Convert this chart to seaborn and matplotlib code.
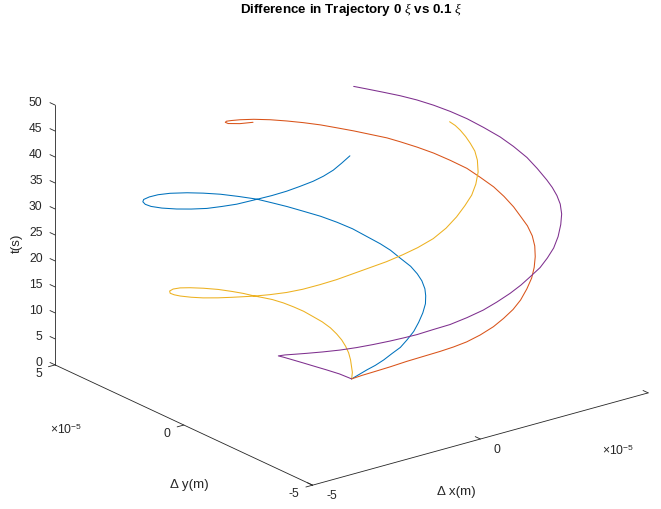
import matplotlib
matplotlib.use("Agg")
import matplotlib.pyplot as plt
import seaborn as sns
import numpy as np
from mpl_toolkits.mplot3d import proj3d

# ---------------- data (dx, dy in units of 1e-5 m, t in s) ----------------
T_BLUE = [0, 0.65, 1.3, 2.05, 2.8, 3.6, 4.4, 5.2, 6.0, 6.75, 7.5, 8.2, 8.8, 9.3, 9.9,
          10.5, 11.3, 12.3, 13.3, 14.2, 15.4, 16.7, 18.0, 19.3, 20.6, 21.9, 23.0, 24.2,
          25.7, 27.0, 28.3, 29.6, 30.8, 31.6, 32.3, 32.7, 33.0, 33.3, 33.8, 34.6, 35.7,
          36.8, 38.0, 39.2, 40.4, 42.0, 43.1, 44.3, 45.4, 46.5, 47.3, 48.2, 49.1, 50.0]
DX_BLUE = [0, 0.19, 0.38, 0.56, 0.78, 1.03, 1.26, 1.52, 1.82, 2.12, 2.42, 2.69, 2.89,
           3.05, 3.19, 3.26, 3.27, 3.19, 3.12, 3.00, 2.79, 2.56, 2.26, 1.92, 1.53, 1.14,
           0.78, 0.39, -0.16, -0.68, -1.23, -1.79, -2.38, -2.83, -3.23, -3.52, -3.69,
           -3.81, -3.89, -3.92, -3.91, -3.87, -3.80, -3.69, -3.57, -3.34, -3.13, -2.93,
           -2.72, -2.49, -2.26, -2.02, -1.77, -1.51]
DY_BLUE = [0, -0.05, -0.10, -0.19, -0.23, -0.23, -0.25, -0.17, -0.04, 0.16, 0.39, 0.64,
           0.89, 1.13, 1.43, 1.70, 1.97, 2.26, 2.56, 2.80, 3.06, 3.30, 3.51, 3.71, 3.86,
           3.99, 4.10, 4.19, 4.19, 4.21, 4.16, 4.06, 3.95, 3.83, 3.65, 3.49, 3.30, 3.05,
           2.72, 2.26, 1.70, 1.19, 0.67, 0.23, -0.19, -0.66, -0.98, -1.29, -1.53, -1.75,
           -1.85, -1.92, -1.92, -1.90]

T_ORANGE = [0, 0.9, 1.8, 3.15, 4.5, 5.9, 7.3, 8.4, 9.6, 10.8, 12.1, 13.3, 14.6, 15.8,
            17.2, 18.5, 19.7, 20.9, 22.1, 23.3, 24.6, 25.9, 27.1, 28.3, 29.4, 30.6, 31.8,
            33.0, 34.1, 35.2, 36.2, 37.0, 38.0, 39.0, 40.0, 41.0, 41.9, 42.8, 43.7, 44.8,
            45.8, 46.6, 47.2, 47.6, 48.1, 49.0, 50.0]
DX_ORANGE = [0, 0.15, 0.31, 0.55, 0.80, 1.01, 1.24, 1.44, 1.64, 1.92, 2.23, 2.50, 2.77,
             3.04, 3.31, 3.57, 3.79, 3.99, 4.16, 4.27, 4.31, 4.29, 4.29, 4.28, 4.24, 4.12,
             3.98, 3.74, 3.49, 3.19, 2.88, 2.62, 2.24, 1.86, 1.46, 1.06, 0.64, 0.21,
             -0.24, -0.76, -1.24, -1.61, -1.85, -2.00, -2.10, -2.07, -1.98]
DY_ORANGE = [0, -0.21, -0.44, -0.78, -1.10, -1.46, -1.82, -2.08, -2.33, -2.49, -2.60,
             -2.64, -2.66, -2.60, -2.49, -2.34, -2.15, -1.93, -1.69, -1.45, -1.21, -0.97,
             -0.70, -0.34, 0.01, 0.37, 0.71, 1.04, 1.36, 1.61, 1.86, 2.04, 2.19, 2.34,
             2.47, 2.59, 2.71, 2.79, 2.85, 2.81, 2.71, 2.58, 2.45, 2.30, 2.06, 1.64, 1.25]

T_YELLOW = [0, 0.55, 1.05, 1.55, 2.15, 2.75, 3.4, 4.05, 4.8, 5.65, 6.5, 7.45, 8.4, 9.3,
            10.2, 10.95, 11.75, 12.7, 13.7, 14.9, 16.1, 17.2, 17.95, 18.5, 18.85, 19.1,
            19.4, 19.8, 20.6, 21.5, 22.6, 23.7, 24.5, 25.4, 26.6, 27.9, 29.1, 30.4, 31.7,
            33.0, 34.3, 35.6, 37.0, 38.2, 39.4, 40.7, 41.8, 42.9, 43.9, 44.8, 45.6, 46.4,
            47.1, 47.8, 48.4, 49.0, 49.5, 50.0]
DX_YELLOW = [0, 0.16, 0.30, 0.42, 0.54, 0.62, 0.67, 0.68, 0.65, 0.56, 0.42, 0.26, 0.05,
             -0.17, -0.43, -0.68, -0.95, -1.25, -1.59, -2.02, -2.50, -2.96, -3.31, -3.60,
             -3.82, -3.95, -4.00, -4.02, -4.03, -4.02, -3.97, -3.92, -3.85, -3.81, -3.70,
             -3.57, -3.39, -3.16, -2.91, -2.63, -2.35, -2.07, -1.77, -1.46, -1.06, -0.67,
             -0.25, 0.13, 0.47, 0.80, 1.16, 1.46, 1.63, 1.71, 1.77, 1.80, 1.79, 1.73]
DY_YELLOW = [0, 0.18, 0.40, 0.59, 0.82, 1.04, 1.26, 1.47, 1.67, 1.87, 2.03, 2.20, 2.32,
             2.43, 2.52, 2.54, 2.55, 2.58, 2.57, 2.55, 2.50, 2.42, 2.35, 2.24, 2.09, 1.90,
             1.68, 1.42, 0.98, 0.53, 0.02, -0.45, -0.80, -1.17, -1.65, -2.13, -2.52, -2.88,
             -3.21, -3.49, -3.77, -4.05, -4.30, -4.47, -4.55, -4.54, -4.40, -4.23, -4.05,
             -3.78, -3.40, -2.98, -2.66, -2.38, -2.12, -1.87, -1.69, -1.55]

T_PURPLE = [0, 1.2, 2.5, 3.7, 4.9, 6.2, 7.5, 9.0, 10.2, 11.2, 12.0, 13.0, 14.1, 15.1,
            16.1, 17.2, 18.4, 19.0, 19.7, 20.4, 21.2, 21.9, 22.8, 23.7, 24.8, 25.9, 27.0,
            28.2, 29.5, 30.8, 32.2, 33.6, 35.0, 36.0, 37.0, 37.8, 39.0, 40.2, 41.5, 42.7,
            44.0, 45.2, 46.2, 47.0, 47.8, 48.5, 49.1, 49.6, 50.0]
DX_PURPLE = [0, -0.28, -0.63, -0.96, -1.29, -1.64, -1.97, -2.33, -2.42, -2.41, -2.32,
             -2.17, -2.00, -1.80, -1.58, -1.35, -1.18, -0.96, -0.60, -0.23, 0.20, 0.66,
             1.05, 1.46, 1.77, 2.06, 2.37, 2.64, 2.89, 3.16, 3.40, 3.55, 3.63, 3.70, 3.73,
             3.76, 3.79, 3.79, 3.71, 3.59, 3.39, 3.18, 2.95, 2.72, 2.45, 2.16, 1.86, 1.58,
             1.35]
DY_PURPLE = [0, 0.11, 0.15, 0.17, 0.20, 0.18, 0.07, -0.19, -0.56, -0.94, -1.28, -1.71,
             -2.16, -2.54, -2.89, -3.25, -3.61, -3.79, -3.95, -4.12, -4.22, -4.25, -4.27,
             -4.25, -4.27, -4.26, -4.23, -4.16, -4.08, -3.90, -3.69, -3.53, -3.37, -3.15,
             -2.93, -2.68, -2.27, -1.87, -1.45, -1.09, -0.71, -0.34, 0.01, 0.36, 0.66,
             0.93, 1.19, 1.46, 1.68]

X_TICKS = [-5, 0, 5]
Y_TICKS = [-5, 0, 5]
Z_TICKS = [0, 5, 10, 15, 20, 25, 30, 35, 40, 45, 50]
SERIES_COLORS = ["#0072BD", "#D95319", "#EDB120", "#7E2F8E"]

TITLE = r"Difference in Trajectory 0 $\xi$ vs 0.1 $\xi$"
XLABEL = "\u0394 x(m)"
YLABEL = "\u0394 y(m)"
ZLABEL = "t(s)"
EXPONENT = "\u00d710$^{-5}$"

# ---------------- style ----------------
sns.set_theme(style="white")
plt.rcParams["font.family"] = ["Liberation Sans", "DejaVu Sans"]
plt.rcParams["mathtext.fontset"] = "custom"
plt.rcParams["mathtext.rm"] = "Liberation Sans"
plt.rcParams["mathtext.it"] = "Liberation Serif:italic"
plt.rcParams["mathtext.bf"] = "Liberation Sans:bold"
palette = sns.color_palette(SERIES_COLORS)
AX_COLOR = "#262626"
TICK_FS = 8.7

W, H = 661, 509
fig = plt.figure(figsize=(W / 100, H / 100), dpi=100)
fig.patch.set_facecolor("white")
ax = fig.add_axes([0, 0, 1, 1], projection="3d", computed_zorder=False)
ax.set_proj_type("ortho")
ax.view_init(elev=21, azim=-127.5)
ax.set_box_aspect((1, 1, 0.658))
ax.set_xlim(-5, 5)
ax.set_ylim(-5, 5)
ax.set_zlim(0, 50)

series = [(T_BLUE, DX_BLUE, DY_BLUE), (T_ORANGE, DX_ORANGE, DY_ORANGE),
          (T_YELLOW, DX_YELLOW, DY_YELLOW), (T_PURPLE, DX_PURPLE, DY_PURPLE)]
for (t, dx, dy), col in zip(series, palette):
    ax.plot(dx, dy, t, color=col, lw=0.75, solid_joinstyle="round")

ax.grid(False)
ax.set_xticks(X_TICKS)
ax.set_yticks(Y_TICKS)
ax.set_zticks(Z_TICKS)
# tick labels are drawn below at the projected tick positions
ax.set_xticklabels([""] * len(X_TICKS))
ax.set_yticklabels([""] * len(Y_TICKS))
ax.set_zticklabels([""] * len(Z_TICKS))
for axis in (ax.xaxis, ax.yaxis, ax.zaxis):
    axis.set_pane_color((1, 1, 1, 0))
    axis.pane.set_edgecolor((1, 1, 1, 0))
    axis.line.set_color(AX_COLOR)
    axis.line.set_linewidth(0.6)
    axis._axinfo["tick"]["inward_factor"] = 0.0
    axis._axinfo["tick"]["outward_factor"] = 0.25
    axis._axinfo["tick"]["linewidth"] = {True: 0.6, False: 0.4}
    axis._axinfo["tick"]["color"] = AX_COLOR
ax.tick_params(colors=AX_COLOR)
# y ticks point into the box, like the reference
ax.yaxis._axinfo["tick"]["inward_factor"] = 0.25
ax.yaxis._axinfo["tick"]["outward_factor"] = 0.0
# z ticks along the y direction
ax.zaxis._get_tickdir = lambda position="default": 1

# ---------------- place the plot box (fit three corners) ----------------
corners = [(-5, -5, 0), (5, -5, 0), (-5, 5, 0), (-5, 5, 50)]
targets = np.array([(313, H - 485), (648, H - 393), (55, H - 365), (55, H - 105)], float)


def to_px(x, y, z):
    xs, ys, _ = proj3d.proj_transform(x, y, z, ax.get_proj())
    return ax.transData.transform((xs, ys))


def corner_px():
    fig.canvas.draw()
    return np.array([to_px(*c) for c in corners])


for _ in range(3):
    P = corner_px()
    Pm, Tm = P.mean(0), targets.mean(0)
    a = ((P - Pm) * (targets - Tm)).sum() / ((P - Pm) ** 2).sum()
    b = Tm - a * Pm
    bb = ax.get_position()
    x0, y0 = bb.x0 * W, bb.y0 * H
    x1, y1 = bb.x1 * W, bb.y1 * H
    nx0, ny0 = a * x0 + b[0], a * y0 + b[1]
    nx1, ny1 = a * x1 + b[0], a * y1 + b[1]
    ax.set_position([nx0 / W, ny0 / H, (nx1 - nx0) / W, (ny1 - ny0) / H])
fig.canvas.draw()

# ---------------- tick labels at projected tick positions ----------------
for v in X_TICKS:
    px, py = to_px(v, -5, 0)
    fig.text((px + 13.5) / W, (py - 10.5) / H, str(v), ha="left", va="center",
             fontsize=TICK_FS, color=AX_COLOR)
for v in Y_TICKS:
    px, py = to_px(-5, v, 0)
    fig.text((px - 13.0) / W, (py - 9.0) / H, str(v), ha="right", va="center",
             fontsize=TICK_FS, color=AX_COLOR)
for v in Z_TICKS:
    px, py = to_px(-5, 5, v)
    fig.text((px - 12.5) / W, (py + 2.0) / H, str(v), ha="right", va="center",
             fontsize=TICK_FS, color=AX_COLOR)

# ---------------- texts ----------------
fig.text(351.5 / W, 1 - 9 / H, TITLE, ha="center", va="center", fontsize=9.6,
         fontweight="bold", color="black")
fig.text(456 / W, 1 - 492 / H, XLABEL, ha="center", va="center", fontsize=9.6, color=AX_COLOR)
fig.text(189 / W, 1 - 485 / H, YLABEL, ha="center", va="center", fontsize=9.6, color=AX_COLOR)
fig.text(17 / W, 1 - 243 / H, ZLABEL, ha="center", va="center", fontsize=9.6,
         rotation=90, color=AX_COLOR)
fig.text(50 / W, 1 - 430 / H, EXPONENT, ha="left", va="center", fontsize=TICK_FS, color=AX_COLOR)
fig.text(602 / W, 1 - 451 / H, EXPONENT, ha="left", va="center", fontsize=TICK_FS, color=AX_COLOR)

fig.savefig("out.png", dpi=100, facecolor="white")
